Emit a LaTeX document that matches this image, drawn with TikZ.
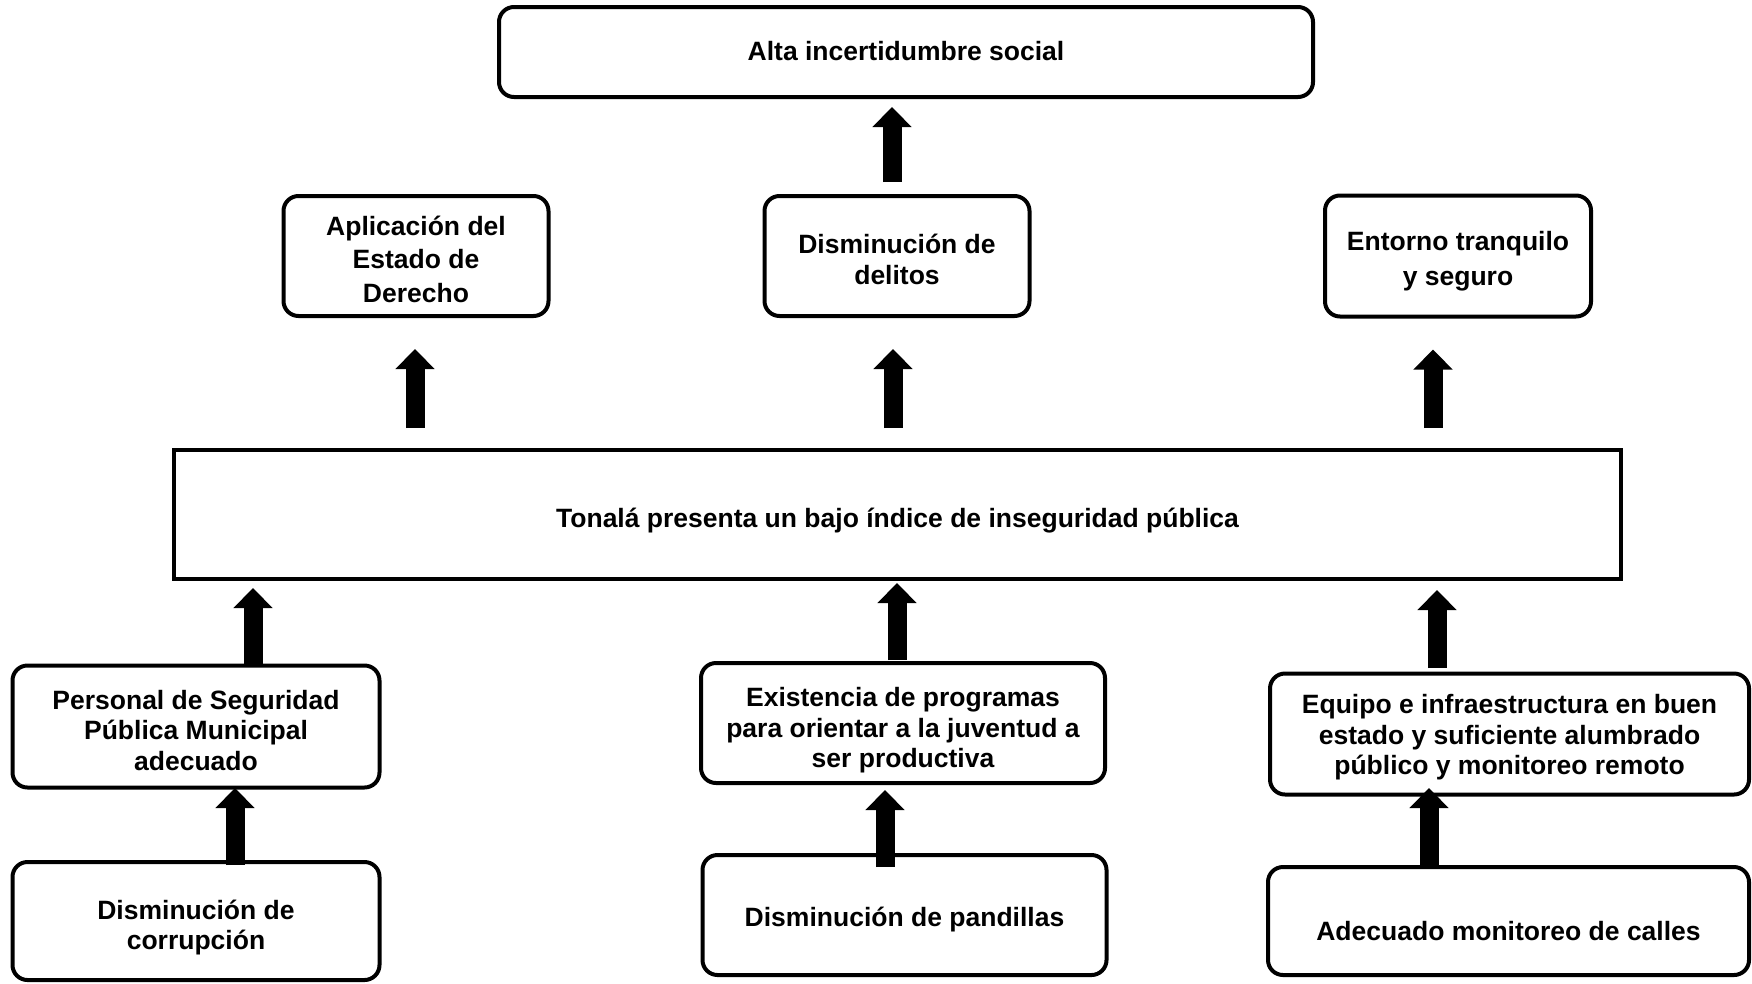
\documentclass[tikz,border=0pt]{standalone}
\usepackage{fontspec}
\setmainfont{Liberation Sans}
\usetikzlibrary{arrows.meta}
\begin{document}
\begin{tikzpicture}[x=1pt,y=-1pt,
  txt/.style={align=center, inner sep=0pt, font=\fontsize{26.5}{30.5}\selectfont\bfseries},
  wide/.style={font=\fontsize{26.5}{33.5}\selectfont\bfseries},
  box/.style={draw, line width=4pt, rounded corners=15pt, inner sep=0pt},
  sqbox/.style={draw, line width=4pt, inner sep=0pt},
  bigarrow/.style={line width=19pt, -{Triangle[width=38pt,length=20pt]}}]
\useasboundingbox (0,0) rectangle (1752,983);
% boxes with their texts
\node[box, minimum width=814pt, minimum height=90pt,
  label={[txt,yshift=1pt]center:Alta incertidumbre social}] (top) at (906,52) {};
\node[box, minimum width=265pt, minimum height=120pt,
  label={[txt,wide,yshift=-3pt]center:Aplicación del\\Estado de\\Derecho}] (A) at (416,256) {};
\node[box, minimum width=265pt, minimum height=120pt,
  label={[txt,font=\fontsize{26.5}{31}\selectfont\bfseries,yshift=-3.5pt]center:Disminución de\\delitos}] (B) at (897,256) {};
\node[box, minimum width=266pt, minimum height=121pt,
  label={[txt,font=\fontsize{26.5}{34.5}\selectfont\bfseries,yshift=-5pt]center:Entorno tranquilo\\y seguro}] (C) at (1458,256) {};
\node[sqbox, minimum width=1447pt, minimum height=129pt,
  label={[txt,yshift=-6.5pt]center:Tonalá presenta un bajo índice de inseguridad pública}] (big) at (897.5,514) {};
\node[box, minimum width=367pt, minimum height=122pt,
  label={[txt,yshift=-4pt]center:Personal de Seguridad\\Pública Municipal\\adecuado}] (D) at (196,726.5) {};
\node[box, minimum width=404pt, minimum height=120pt,
  label={[txt,yshift=-7.5pt]center:Existencia de programas\\para orientar a la juventud a\\ser productiva}] (E) at (903,723) {};
\node[box, minimum width=479pt, minimum height=121pt,
  label={[txt,yshift=-3.5pt]center:Equipo e infraestructura en buen\\estado y suficiente alumbrado\\público y monitoreo remoto}] (F) at (1509.5,734) {};
\node[box, minimum width=367pt, minimum height=118pt,
  label={[txt,yshift=-6.5pt]center:Disminución de\\corrupción}] (G) at (196,921) {};
\node[box, minimum width=404pt, minimum height=120pt,
  label={[txt,yshift=-4.5pt]center:Disminución de pandillas}] (H) at (904.5,915) {};
\node[box, minimum width=481pt, minimum height=108pt,
  label={[txt,yshift=-10pt]center:Adecuado monitoreo de calles}] (I) at (1508.5,921) {};
% arrow x positions
\coordinate (x0) at (892,0);
\coordinate (xA) at (415,0);
\coordinate (xB) at (893,0);
\coordinate (xC) at (1433,0);
\coordinate (xD) at (253,0);
\coordinate (xE) at (897,0);
\coordinate (xF) at (1437,0);
\coordinate (xG) at (235,0);
\coordinate (xH) at (885,0);
\coordinate (xI) at (1429,0);
% arrows
\draw[bigarrow, shorten <=12pt, shorten >=8pt] (B.north -| x0) -- (top.south -| x0);
\draw[bigarrow, shorten <=19.5pt, shorten >=31pt] (big.north -| xA) -- (A.south -| xA);
\draw[bigarrow, shorten <=19.5pt, shorten >=31pt] (big.north -| xB) -- (B.south -| xB);
\draw[bigarrow, shorten <=19.5pt, shorten >=31pt] (big.north -| xC) -- (C.south -| xC);
\draw[bigarrow, shorten <=-2.5pt, shorten >=7.5pt] (D.north -| xD) -- (big.south -| xD);
\draw[bigarrow, shorten <=1pt, shorten >=2.5pt] (E.north -| xE) -- (big.south -| xE);
\draw[bigarrow, shorten <=3.5pt, shorten >=9.5pt] (F.north -| xF) -- (big.south -| xF);
\draw[bigarrow, shorten <=-5pt, shorten >=-1.5pt] (G.north -| xG) -- (D.south -| xG);
\draw[bigarrow, shorten <=-14pt, shorten >=5pt] (H.north -| xH) -- (E.south -| xH);
\draw[bigarrow, shorten <=-2pt, shorten >=-8.5pt] (I.north -| xI) -- (F.south -| xI);
\end{tikzpicture}
\end{document}
